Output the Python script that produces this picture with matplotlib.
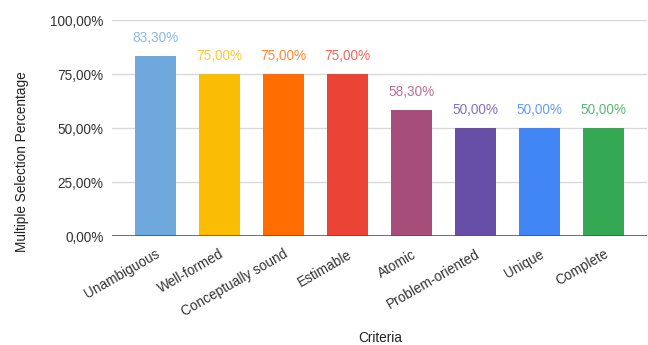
import matplotlib
matplotlib.use("Agg")
import matplotlib.pyplot as plt
from matplotlib.ticker import FuncFormatter

categories = ["Unambiguous", "Well-formed", "Conceptually sound", "Estimable",
              "Atomic", "Problem-oriented", "Unique", "Complete"]
values = [83.3, 75.0, 75.0, 75.0, 58.3, 50.0, 50.0, 50.0]
colors = ["#6FA8DC", "#FBBC04", "#FF6D01", "#EA4335",
          "#A64D79", "#674EA7", "#4285F4", "#34A853"]
yticks = [0, 25, 50, 75, 100]

plt.rcParams['font.family'] = ['Liberation Sans', 'DejaVu Sans']
FS = 9.8

fig = plt.figure(figsize=(6.48, 3.45), dpi=100)
ax = fig.add_axes([112/648, 1-236/345, (647-112)/648, (236-20)/345])

x = list(range(len(categories)))
ax.bar(x, values, width=0.64, color=colors, zorder=3)
for xi, v, c in zip(x, values, colors):
    ax.text(xi, v + 5, f"{v:.2f}".replace(".", ",") + "%", ha="center", va="bottom",
            color=c, fontsize=FS, alpha=0.8)

ax.set_xlim(-0.68, 7.68)
ax.set_ylim(0, 100)
ax.set_yticks(yticks)
ax.yaxis.set_major_formatter(FuncFormatter(lambda v, p: f"{v:.2f}".replace(".", ",") + "%"))
ax.grid(axis="y", color="#d9d9d9", linewidth=1, zorder=0)
ax.axhline(0, color="#555555", linewidth=1.2, zorder=4)
for s in ax.spines.values():
    s.set_visible(False)
ax.tick_params(axis="both", length=0, labelsize=FS, colors="#333333")
ax.tick_params(axis="y", pad=6)
ax.set_xticks(x)
ax.set_xticklabels(categories, rotation=30, ha="right", rotation_mode="anchor")
ax.tick_params(axis="x", pad=8)
ax.set_xlabel("Criteria", fontsize=FS, color="#222222", va="center")
ax.xaxis.set_label_coords((380-112)/535, -(338-236)/216)
ax.set_ylabel("Multiple Selection Percentage", fontsize=FS, color="#222222", va="center")
ax.yaxis.set_label_coords(-(112-22)/535, (236-162)/216)

fig.savefig("out.png", dpi=100)
